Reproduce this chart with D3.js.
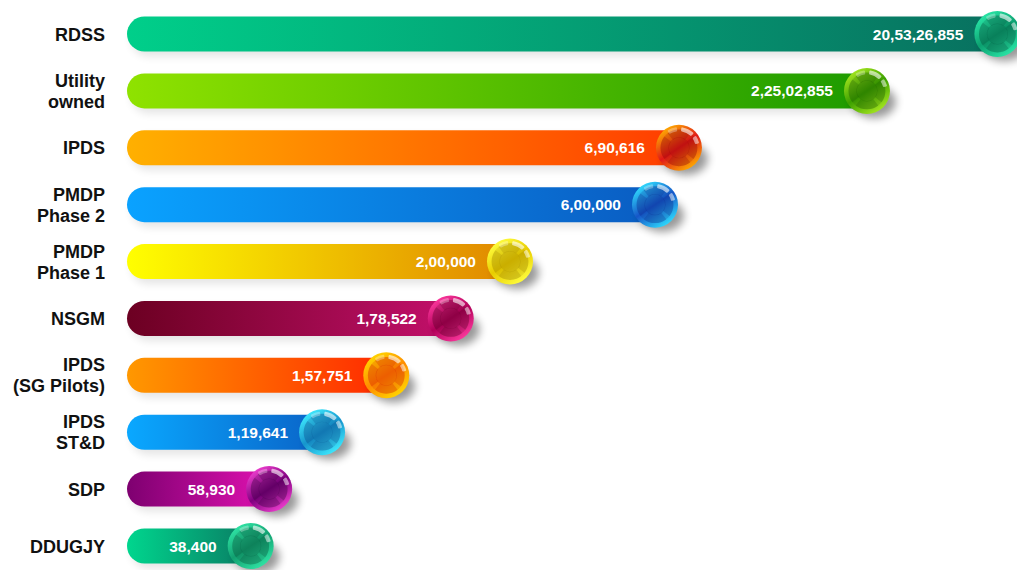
<!DOCTYPE html>
<html>
<head>
<meta charset="utf-8">
<script src="https://cdn.jsdelivr.net/npm/d3@7"></script>
<style>
  body { margin: 0; background: #fff; }
  svg { display: block; }
</style>
</head>
<body>
<svg></svg>
<script>
const width = 1017;
const height = 570;

// data
const categories = ["RDSS", "Utility owned", "IPDS", "PMDP Phase 2", "PMDP Phase 1",
    "NSGM", "IPDS (SG Pilots)", "IPDS ST&D", "SDP", "DDUGJY"];
const labelLines = [["RDSS"], ["Utility", "owned"], ["IPDS"], ["PMDP", "Phase 2"], ["PMDP", "Phase 1"],
    ["NSGM"], ["IPDS", "(SG Pilots)"], ["IPDS", "ST&D"], ["SDP"], ["DDUGJY"]];
const values = [20532685, 2250285, 690616, 600000, 200000, 178522, 157751, 119641, 58930, 38400];
const valueLabels = ["20,53,26,855", "2,25,02,855", "6,90,616", "6,00,000", "2,00,000",
    "1,78,522", "1,57,751", "1,19,641", "58,930", "38,400"];

// colours: bar gradient start/end, ball light/main/dark
const barStart = ["#00cf8a", "#8fe200", "#ffb000", "#0aa2ff", "#ffff00", "#6c0022", "#ff9800", "#0aa8ff", "#7e0070", "#00d68e"];
const barEnd   = ["#08705f", "#1c9a00", "#ff3c00", "#0a5cc2", "#e08600", "#c4106c", "#ff2800", "#0a62c6", "#e212b2", "#0a7a62"];
const ballLight = ["#2ae8a8", "#a8e820", "#ffb000", "#30e0ff", "#ffff40", "#ff3aa0", "#ffd800", "#40ecff", "#f040d0", "#30e6a6"];
const ballMain  = ["#0ca070", "#3ca000", "#e01818", "#1656c8", "#e8cc00", "#b00058", "#ff8c00", "#1694cc", "#800080", "#12a070"];
const ballDark  = ["#04503a", "#1a5a00", "#900606", "#0a2a8a", "#9a7e00", "#5a0028", "#d01800", "#0a4a8c", "#380040", "#06553a"];

let svg = d3.select("svg")
    .attr("width", width)
    .attr("height", height);

let defs = svg.append("defs");

// the infographic does not use a linear axis, so a piecewise log scale is used
const x = d3.scaleLog()
    .domain([30000, 100000, 150000, 200000, 600000, 2000000, 25000000])
    .range([240, 292, 360, 510, 655, 860, 1009]);

const y = d3.scalePoint()
    .domain(categories)
    .range([34, 546]);

const barLeft = 127;
const barH = 35;
const r = 23;

let blur = defs.append("filter")
    .attr("id", "shadow")
    .attr("x", "-50%").attr("y", "-50%")
    .attr("width", "200%").attr("height", "200%");
blur.append("feGaussianBlur").attr("stdDeviation", 4);

categories.forEach((c, i) => {
    let g = defs.append("linearGradient")
        .attr("id", "bar" + i)
        .attr("x1", 0).attr("x2", 1).attr("y1", 0).attr("y2", 0);
    g.append("stop").attr("offset", "0%").attr("stop-color", barStart[i]);
    g.append("stop").attr("offset", "100%").attr("stop-color", barEnd[i]);

    let b = defs.append("linearGradient")
        .attr("id", "ball" + i)
        .attr("x1", 0.2).attr("y1", 0.05).attr("x2", 0.8).attr("y2", 0.95);
    b.append("stop").attr("offset", "0%").attr("stop-color", ballLight[i]);
    b.append("stop").attr("offset", "50%").attr("stop-color", ballMain[i]);
    b.append("stop").attr("offset", "100%").attr("stop-color", ballLight[i]);
});

let rows = svg.selectAll("g.row")
    .data(categories)
    .enter().append("g")
    .attr("class", "row");

// category labels
rows.append("text")
    .attr("text-anchor", "end")
    .style("font-family", "'Liberation Sans', Arial, sans-serif")
    .style("font-weight", "bold")
    .style("font-size", "18px")
    .style("fill", "#111")
    .each(function(d, i) {
        let lines = labelLines[i];
        let t = d3.select(this);
        lines.forEach((l, k) => {
            t.append("tspan")
                .attr("x", 105)
                .attr("y", y(d) + 6.5 + (k - (lines.length - 1) / 2) * 21)
                .text(l);
        });
    });

// bar shadows
rows.append("rect")
    .attr("x", barLeft + 4)
    .attr("y", d => y(d) - barH / 2 + 5)
    .attr("width", (d, i) => x(values[i]) - barLeft)
    .attr("height", barH)
    .attr("rx", barH / 2)
    .style("fill", "#000")
    .style("opacity", 0.1)
    .attr("filter", "url(#shadow)");

// bars
rows.append("rect")
    .attr("x", barLeft)
    .attr("y", d => y(d) - barH / 2)
    .attr("width", (d, i) => x(values[i]) - barLeft + 4)
    .attr("height", barH)
    .attr("rx", barH / 2)
    .style("fill", (d, i) => `url(#bar${i})`);

// value labels
rows.append("text")
    .attr("x", (d, i) => x(values[i]) - 34)
    .attr("y", d => y(d) + 5.5)
    .attr("text-anchor", "end")
    .style("font-family", "'Liberation Sans', Arial, sans-serif")
    .style("font-weight", "bold")
    .style("font-size", "15.5px")
    .style("fill", "#fff")
    .text((d, i) => valueLabels[i]);

// glossy balls
let ring = d3.arc().innerRadius(r * 0.44).outerRadius(r * 0.8);
let shine = d3.arc().innerRadius(r * 0.72).outerRadius(r * 0.9).cornerRadius(1);

let balls = rows.append("g")
    .attr("transform", (d, i) => `translate(${x(values[i])},${y(d)})`);

balls.append("ellipse")
    .attr("cx", 7)
    .attr("cy", 11)
    .attr("rx", r * 0.95)
    .attr("ry", r * 0.7)
    .style("fill", "#000")
    .style("opacity", 0.4)
    .attr("filter", "url(#shadow)");

balls.append("circle")
    .attr("r", r)
    .style("fill", (d, i) => `url(#ball${i})`);

balls.append("circle")
    .attr("r", r * 0.8)
    .style("fill", (d, i) => ballDark[i])
    .style("opacity", 0.18);

// darker segments in the middle, small gaps on the diagonals
[0, Math.PI / 2, Math.PI, Math.PI * 1.5].forEach(a => {
    balls.append("path")
        .attr("d", ring({startAngle: a - 0.66, endAngle: a + 0.66}))
        .style("fill", (d, i) => ballDark[i])
        .style("opacity", 0.25);
});

balls.append("circle")
    .attr("r", r * 0.46)
    .style("fill", (d, i) => ballDark[i])
    .style("opacity", 0.25);

balls.append("path")
    .attr("d", shine({startAngle: 0.12, endAngle: 0.8}))
    .style("fill", "#fff")
    .style("opacity", 0.6);
balls.append("path")
    .attr("d", shine({startAngle: 0.95, endAngle: 1.35}))
    .style("fill", "#fff")
    .style("opacity", 0.5);
balls.append("path")
    .attr("d", shine({startAngle: -0.6, endAngle: -0.1}))
    .style("fill", "#fff")
    .style("opacity", 0.3);
</script>
</body>
</html>
